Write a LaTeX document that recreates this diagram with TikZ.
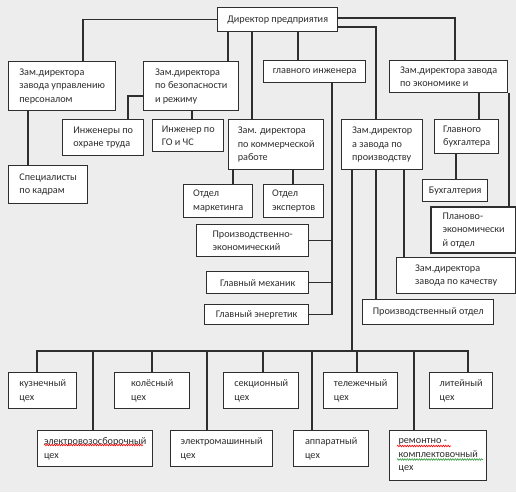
\documentclass[tikz,border=0pt]{standalone}
\usepackage{fontspec}
\setmainfont{Carlito}
\usepackage{tikz}
\usetikzlibrary{decorations.pathmorphing}

\definecolor{ink}{HTML}{2E2E2E}
\definecolor{paper}{HTML}{EDEDED}
\definecolor{spellgreen}{HTML}{2E9E3E}

\begin{document}
\begin{tikzpicture}[x=1pt, y=-1pt, every node/.style={draw=ink, line width=1.4pt, fill=white, anchor=north west, align=left, text=ink, font=\fontsize{10.2}{13.5}\selectfont, inner sep=2pt},
        sz/.style 2 args={minimum width=#1pt, minimum height=#2pt},
        link/.style={draw=ink, line width=1.2pt},
        thicklink/.style={draw=ink, line width=2.3pt},
        spell/.style={draw=#1, line width=0.6pt, decorate, decoration={snake, amplitude=0.8pt, segment length=2.4pt}}]
        \fill[paper] (0,0) rectangle (516,492);
        \useasboundingbox (0,0) rectangle (516,492);

        % top level
        \node[sz={120}{24}, align=center] (dir) at (217,7) {Директор предприятия};
        \node[sz={107}{49}] (zpers) at (8,61) {Зам.директора\\завода управлению\\персоналом};
        \node[sz={95}{49}] (bez) at (143,61) {Зам.директора\\по безопасности\\и режиму};
        \node[sz={102}{22}] (glinzh) at (263,60) {главного инженера};
        \node[sz={118}{32}] (econ) at (389,60) {Зам.директора завода\\по экономике  и};

        % second level
        \node[sz={81}{36}] (ohr) at (62,119) {Инженеры по\\охране труда};
        \node[sz={71}{32}] (gochs) at (152,119) {Инженер по\\ГО и ЧС};
        \node[sz={95}{50}] (comm) at (228,119) {Зам. директора\\по коммерческой\\работе};
        \node[sz={81}{50}] (prod) at (341,119) {Зам.директор\\а завода по\\производству};
        \node[sz={64}{34}] (glbuh) at (434,119) {Главного\\бухгалтера};
        \node[sz={79}{38}] (kadr) at (8,165) {Специалисты\\по кадрам};
        \node[sz={69}{33}] (mark) at (183,184) {Отдел\\маркетинга};
        \node[sz={60}{33}] (exp) at (263,184) {Отдел\\экспертов};
        \node[sz={65}{22}] (buh) at (422,179) {Бухгалтерия};
        \node[sz={85}{46}, line width=2.2pt] (plan) at (430,206) {Планово-\\экономически\\й отдел};
        \node[sz={112}{32}] (pe) at (196,224) {Производственно-\\экономический};
        \node[sz={102}{22}] (meh) at (206,271) {Главный механик};
        \node[sz={104}{20}] (energ) at (204,304) {Главный энергетик};
        \node[sz={119}{36}] (kach) at (396,257) {Зам.директора\\завода по качеству};
        \node[sz={131}{25}] (potd) at (362,299) {Производственный отдел};

        % workshops
        \node[sz={68}{36}] (kuz) at (8,372) {кузнечный\\цех};
        \node[sz={75}{36}] (kol) at (114,372) {колёсный\\цех};
        \node[sz={75}{36}] (sek) at (223,372) {секционный\\цех};
        \node[sz={74}{36}] (tel) at (323,372) {тележечный\\цех};
        \node[sz={63}{36}] (lit) at (429,372) {литейный\\цех};
        \node[sz={115}{36}] (elvoz) at (37,430) {электровозосборочный\\цех};
        \node[sz={102}{36}] (elmash) at (170,430) {электромашинный\\цех};
        \node[sz={75}{36}] (app) at (293,430) {аппаратный\\цех};
        \node[sz={97}{50}] (rem) at (389,430) {ремонтно -\\комплектовочный\\цех};

        % spelling marks
        \draw[spell=red] ([shift={(7,15)}]elvoz.north west) -- ([shift={(106,15)}]elvoz.north west);
        \draw[spell=red] ([shift={(8,16)}]rem.north west) -- ([shift={(62,16)}]rem.north west);
        \draw[spell=spellgreen] ([shift={(8,29.5)}]rem.north west) -- ([shift={(94,29.5)}]rem.north west);

        \draw[link] (dir.west) -| (83,0 |- zpers.north);
        \draw[thicklink] (228,0 |- dir.south) -- (228,0 |- bez.north);
        \draw[link] (252,0 |- dir.south) -- (252,0 |- comm.north);
        \draw[thicklink] (298,0 |- dir.south) -- (298,0 |- glinzh.north);
        \draw[link] (dir.east |- 0,27) -| (376,0 |- prod.north);
        \draw[link] (dir.east |- 0,18) -| (455,0 |- econ.north);

        \draw[link] (28,0 |- zpers.south) -- (28,0 |- kadr.north);
        \draw[thicklink] (bez.west |- 0,96) -| (128,0 |- ohr.north);
        \draw[link] (192,0 |- bez.south) -- (192,0 |- gochs.north);
        \draw[link] (233,0 |- comm.south) -- (233,0 |- mark.north);
        \draw[link] (293,0 |- comm.south) -- (293,0 |- exp.north);
        \draw[link] (332,0 |- glinzh.south) |- (energ.east);
        \draw[link] (332,0 |- pe.east) -- (pe.east);
        \draw[link] (332,0 |- meh.east) -- (meh.east);
        \draw[link] (479,0 |- econ.south) -- (479,0 |- glbuh.north);
        \draw[link] (509,0 |- econ.south) -- (509,0 |- plan.north);
        \draw[link] (456,0 |- glbuh.south) -- (456,0 |- buh.north);
        \draw[link] (404,0 |- prod.south) -- (404,0 |- kach.north);
        \draw[link] (376,0 |- prod.south) -- (376,0 |- potd.north);

        % workshop bus
        \coordinate (bus) at (352,351);
        \draw[link] (352,0 |- prod.south) -- (bus);
        \draw[link] (37,0 |- kuz.north) |- (bus) -| (468,0 |- lit.north);
        \foreach \x/\n in {93/elvoz, 152/kol, 263/sek, 312/app, 357/tel, 414/rem}
            \draw[link] (bus -| \x,0) -- (\x,0 |- \n.north);
        \draw[thicklink] (bus -| 207,0) -- (207,0 |- elmash.north);
    \end{tikzpicture}
\end{document}
